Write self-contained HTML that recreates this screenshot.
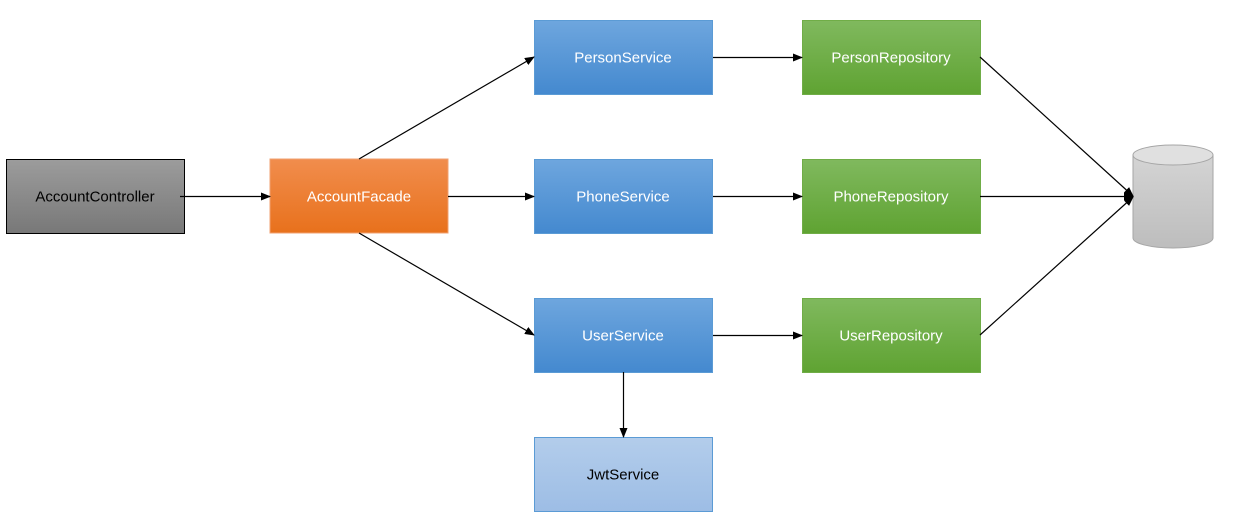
<!DOCTYPE html>
<html><head><style>
body{margin:0;background:#fff;width:1237px;height:521px;overflow:hidden;}
svg text{font-family:"Liberation Sans",sans-serif;font-size:15px;text-anchor:middle;dominant-baseline:central;}
</style></head><body>
<svg width="1237" height="521" xmlns="http://www.w3.org/2000/svg">
<defs>
<linearGradient id="gr" x1="0" y1="0" x2="0" y2="1"><stop offset="0" stop-color="#9c9c9c"/><stop offset="1" stop-color="#787878"/></linearGradient>
<linearGradient id="or" x1="0" y1="0" x2="0" y2="1"><stop offset="0" stop-color="#f18d4d"/><stop offset="1" stop-color="#e8711c"/></linearGradient>
<linearGradient id="bl" x1="0" y1="0" x2="0" y2="1"><stop offset="0" stop-color="#6ea6de"/><stop offset="1" stop-color="#4489cf"/></linearGradient>
<linearGradient id="gn" x1="0" y1="0" x2="0" y2="1"><stop offset="0" stop-color="#80b95e"/><stop offset="1" stop-color="#5fa332"/></linearGradient>
<linearGradient id="lb" x1="0" y1="0" x2="0" y2="1"><stop offset="0" stop-color="#b3cdeb"/><stop offset="1" stop-color="#9dbde5"/></linearGradient>
<linearGradient id="cy" x1="0" y1="0" x2="0" y2="1"><stop offset="0" stop-color="#d4d4d4"/><stop offset="1" stop-color="#bdbdbd"/></linearGradient>
<marker id="a" markerWidth="10" markerHeight="8" refX="9" refY="4" orient="auto" markerUnits="userSpaceOnUse"><path d="M0,0 L10,4 L0,8z" fill="#000"/></marker>
</defs>
<rect x="6.5" y="159.5" width="178" height="74" fill="url(#gr)" stroke="#000"/>
<text x="95" y="197" fill="#000">AccountController</text>
<rect x="270" y="159" width="178" height="74" fill="url(#or)" stroke="#f0a070"/>
<text x="359" y="197" fill="#fff">AccountFacade</text>
<g stroke="#5b9bd5" stroke-width="1">
<rect x="534.5" y="20.5" width="178" height="74" fill="url(#bl)"/>
<rect x="534.5" y="159.5" width="178" height="74" fill="url(#bl)"/>
<rect x="534.5" y="298.5" width="178" height="74" fill="url(#bl)"/>
<rect x="534.5" y="437.5" width="178" height="74" fill="url(#lb)"/>
</g>
<text x="623" y="58" fill="#fff">PersonService</text>
<text x="623" y="197" fill="#fff">PhoneService</text>
<text x="623" y="336" fill="#fff">UserService</text>
<text x="623" y="475" fill="#000">JwtService</text>
<g stroke="#70ad47">
<rect x="802.5" y="20.5" width="178" height="74" fill="url(#gn)"/>
<rect x="802.5" y="159.5" width="178" height="74" fill="url(#gn)"/>
<rect x="802.5" y="298.5" width="178" height="74" fill="url(#gn)"/>
</g>
<text x="891" y="58" fill="#fff">PersonRepository</text>
<text x="891" y="197" fill="#fff">PhoneRepository</text>
<text x="891" y="336" fill="#fff">UserRepository</text>
<path d="M1133,155 L1133,238 A40,10 0 0 0 1213,238 L1213,155 Z" fill="url(#cy)" stroke="#a6a6a6"/>
<ellipse cx="1173" cy="155" rx="40" ry="10" fill="#e0e0e0" stroke="#a6a6a6"/>
<g stroke="#000" stroke-width="1.2" fill="none" marker-end="url(#a)">
<line x1="180" y1="196.5" x2="270" y2="196.5"/>
<line x1="359" y1="159" x2="534" y2="57"/>
<line x1="448" y1="196.5" x2="534" y2="196.5"/>
<line x1="359" y1="233" x2="534" y2="335"/>
<line x1="713" y1="57.5" x2="802" y2="57.5"/>
<line x1="713" y1="196.5" x2="802" y2="196.5"/>
<line x1="713" y1="335.5" x2="802" y2="335.5"/>
<line x1="623.5" y1="372" x2="623.5" y2="437"/>
<line x1="980" y1="57" x2="1133" y2="196"/>
<line x1="980" y1="196.5" x2="1133" y2="196.5"/>
<line x1="980" y1="335" x2="1133" y2="197"/>
</g>
</svg>
</body></html>
